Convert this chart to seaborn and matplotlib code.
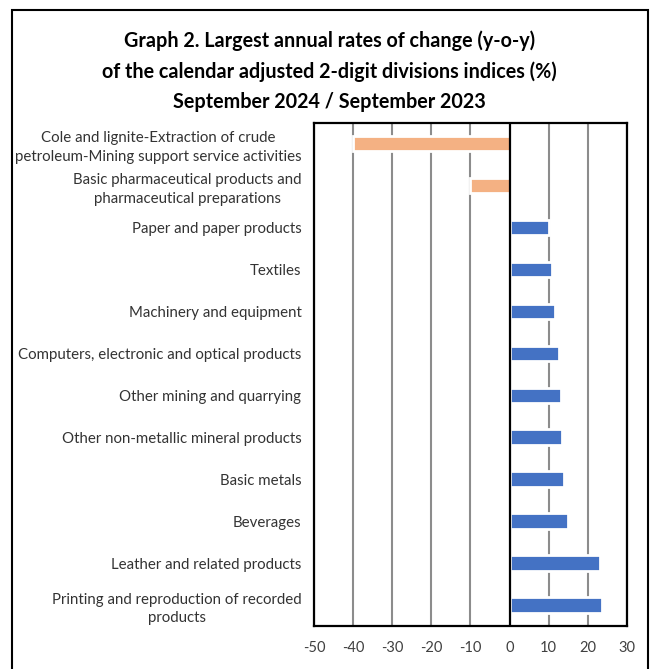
import matplotlib
matplotlib.use("Agg")
import matplotlib.pyplot as plt
import seaborn as sns
import pandas as pd
from matplotlib.patches import Rectangle

categories = [
    "Cole and lignite-Extraction of crude\npetroleum-Mining support service activities",
    "Basic pharmaceutical products and\npharmaceutical preparations",
    "Paper and paper products",
    "Textiles",
    "Machinery and equipment",
    "Computers, electronic and optical products",
    "Other mining and quarrying",
    "Other non-metallic mineral products",
    "Basic metals",
    "Beverages",
    "Leather and related products",
    "Printing and reproduction of recorded\nproducts",
]
values = [-39.9, -10.2, 10.1, 10.9, 11.6, 12.6, 13.2, 13.5, 13.9, 14.9, 23.1, 23.7]
x_ticks = [-50, -40, -30, -20, -10, 0, 10, 20, 30]
title = ("Graph 2. Largest annual rates of change (y-o-y)\n"
         "of the calendar adjusted 2-digit divisions indices (%)\n"
         "September 2024 / September 2023")

NEG = "#F4B183"
POS = "#4472C4"

df = pd.DataFrame({"category": categories, "value": values})
df["sign"] = ["neg" if v < 0 else "pos" for v in values]

sns.set_theme(style="white")
plt.rcParams["font.family"] = ["Lato", "DejaVu Sans"]

fig = plt.figure(figsize=(6.51, 6.69), dpi=100)
ax = fig.add_axes([0.4823, 0.0643, 0.4808, 0.7524])

sns.barplot(data=df, x="value", y="category", hue="sign",
            palette={"neg": NEG, "pos": POS}, orient="h", width=0.37,
            dodge=False, legend=False, edgecolor="white", linewidth=2.0,
            saturation=1, ax=ax, zorder=3)

ax.set_xlim(-50, 30)
ax.set_xticks(x_ticks)
ax.set_xticklabels([str(t) for t in x_ticks], fontsize=10.5, color="#404040")
ax.set_xlabel("")
ax.set_ylabel("")
for t in x_ticks:
    if t != 0:
        ax.axvline(t, color="#8c8c8c", lw=1.5, zorder=1)
ax.axvline(0, color="black", lw=1.6, zorder=5)

ax.tick_params(axis="y", length=0, pad=9, labelsize=10.8, labelcolor="#333333")
ax.tick_params(axis="x", length=0, pad=11)
for lab in ax.get_yticklabels():
    lab.set_multialignment("center")
    lab.set_linespacing(1.45)

for s in ax.spines.values():
    s.set_visible(True)
    s.set_color("black")
    s.set_linewidth(1.6)
    s.set_zorder(6)

fig.text(0.506, 0.955, title, ha="center", va="top", fontsize=14.2,
         fontweight="bold", color="black", linespacing=1.64)

# outer chart frame
fig.patches.append(Rectangle((12/651, -0.05), (648-12)/651, 1.05 - 10/669,
                             transform=fig.transFigure, fill=False,
                             edgecolor="black", lw=1.5, zorder=10))

fig.savefig("out.png", dpi=100)
